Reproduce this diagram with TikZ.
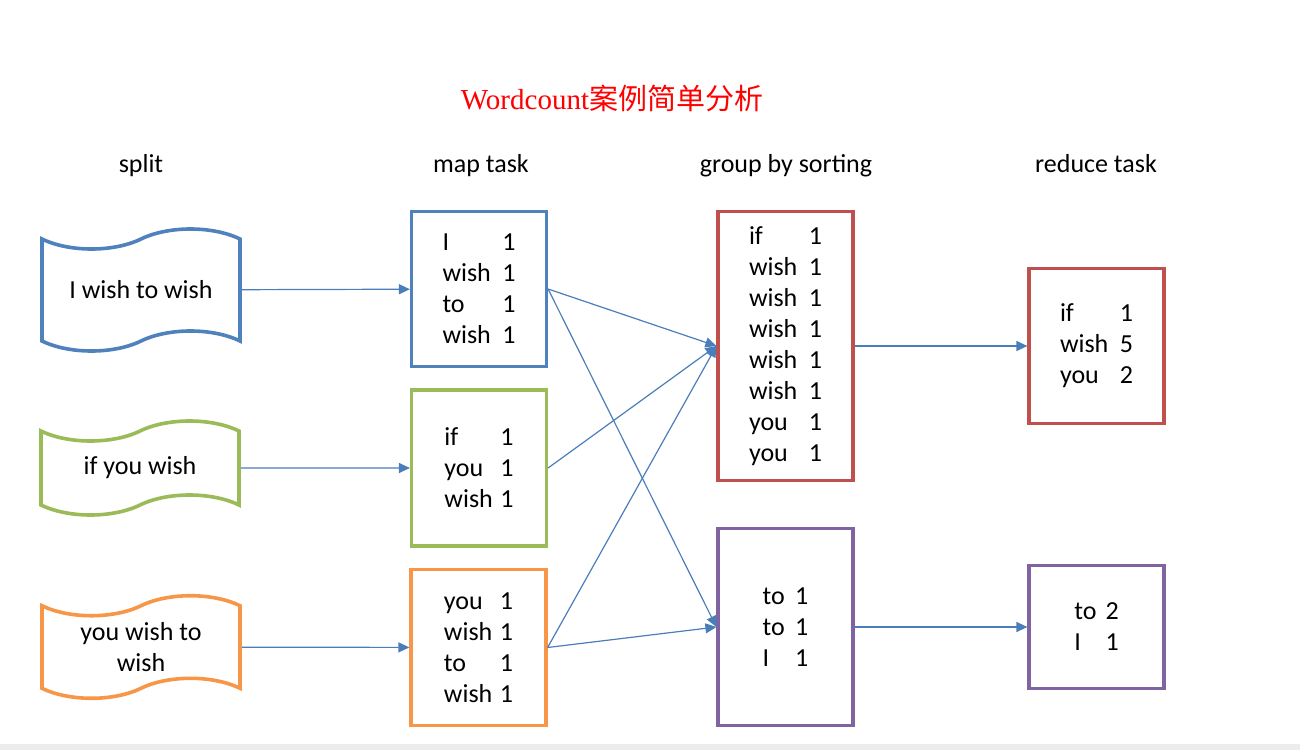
\documentclass[tikz,border=0pt]{standalone}
\usepackage{fontspec}
\setmainfont{Carlito}
\newfontfamily\titlefont{Liberation Serif}
\newfontfamily\cjk{Noto Sans CJK SC}
\usetikzlibrary{shapes.symbols, arrows.meta}
\definecolor{wcblue}{HTML}{4F81BD}
\definecolor{wcgreen}{HTML}{9BBB59}
\definecolor{wcorange}{HTML}{F79646}
\definecolor{wcred}{HTML}{C0504D}
\definecolor{wcpurple}{HTML}{8064A2}
\definecolor{arrowblue}{HTML}{4A7EBB}
\newcommand{\wc}[3][2.3em]{\makebox[#1][l]{#2}#3}

\begin{document}
\begin{tikzpicture}[x=0.5pt, y=-0.5pt,
  every node/.style={font=\fontsize{13}{15.5}\selectfont},
  header/.style={anchor=base},
  tapebox/.style={tape, draw, line width=1.8pt, minimum width=99pt, tape bend height=10pt, align=center},
  countbox/.style={draw, line width=1.6pt, minimum width=67.5pt, align=center},
  flow/.style={-{Triangle[length=5.5pt,width=5pt]}, draw=arrowblue, line width=0.6pt}]
\useasboundingbox (0,0) rectangle (1300,750);
\fill[gray!15] (0,744) rectangle (1300,750);
% title and headers
\node[text=red, font=\titlefont\fontsize{14.5}{16}\selectfont] (title) at (612,98) {Wordcount{\cjk 案例简单分析}};
\node[header] (hsplit) at (141,172) {split};
\node[header] (hmap) at (481,172) {map task};
\node[header] (hgroup) at (786,172) {group by sorting};
\node[header] (hreduce) at (1096,172) {reduce task};
% split
\node[tapebox, draw=wcblue, minimum height=61pt] (t1) at (141,290) {I wish to wish};
\node[tapebox, draw=wcgreen, minimum height=47pt] (t2) at (140,468) {if you wish};
\node[tapebox, draw=wcorange, minimum height=47pt] (t3) at (141,647) {you wish to\\wish};
% map task
\node[countbox, draw=wcblue, minimum height=77.5pt] (m1) at (479,289)
  {\wc{I}{1}\\\wc{wish}{1}\\\wc{to}{1}\\\wc{wish}{1}};
\node[countbox, draw=wcgreen, minimum height=78pt] (m2) at (479,468)
  {\wc[2.15em]{if}{1}\\\wc[2.15em]{you}{1}\\\wc[2.15em]{wish}{1}};
\node[countbox, draw=wcorange, minimum height=78pt] (m3) at (478.5,647.5)
  {\wc[2.15em]{you}{1}\\\wc[2.15em]{wish}{1}\\\wc[2.15em]{to}{1}\\\wc[2.15em]{wish}{1}};
% group by sorting
\node[countbox, draw=wcred, minimum height=134.5pt] (g1) at (785.5,346)
  {\wc{if}{1}\\\wc{wish}{1}\\\wc{wish}{1}\\\wc{wish}{1}\\\wc{wish}{1}\\\wc{wish}{1}\\\wc{you}{1}\\\wc{you}{1}};
\node[countbox, draw=wcpurple, minimum height=98.5pt] (g2) at (785.5,627)
  {\wc[1.25em]{to}{1}\\\wc[1.25em]{to}{1}\\\wc[1.25em]{I}{1}};
% reduce task
\node[countbox, draw=wcred, minimum height=77.5pt] (r1) at (1096.5,346)
  {\wc{if}{1}\\\wc{wish}{5}\\\wc{you}{2}};
\node[countbox, draw=wcpurple, minimum height=61.5pt] (r2) at (1096.5,627)
  {\wc[1.2em]{to}{2}\\\wc[1.2em]{I}{1}};
% arrows
\draw[flow] (t1) -- (m1);
\draw[flow] (t2) -- (m2);
\draw[flow] (t3) -- (m3);
\draw[flow] (m1.east) -- (g1.west);
\draw[flow] (m1.east) -- (g2.west);
\draw[flow] (m2.east) -- (g1.west);
\draw[flow] (m3.east) -- (g1.west);
\draw[flow] (m3.east) -- (g2.west);
\draw[flow] (g1) -- (r1);
\draw[flow] (g2) -- (r2);
\end{tikzpicture}
\end{document}
